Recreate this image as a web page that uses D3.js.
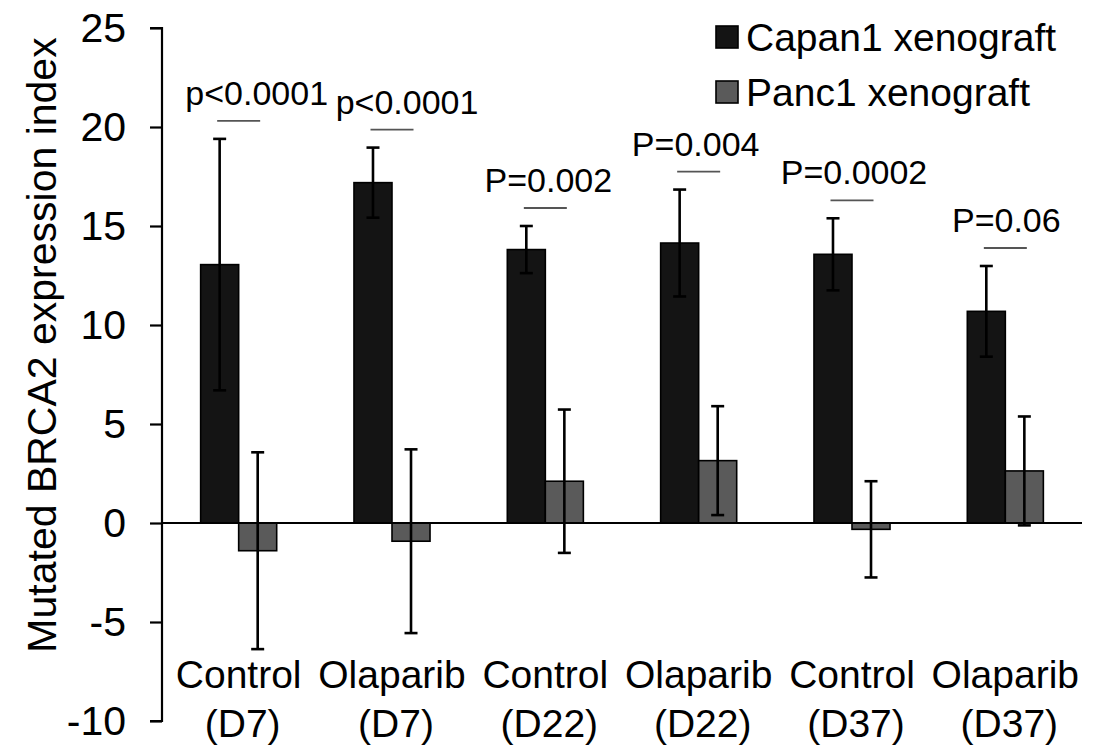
<!DOCTYPE html>
<html>
<head>
<meta charset="utf-8">
<script src="https://cdn.jsdelivr.net/npm/d3@7"></script>
<style>
  html, body { margin: 0; padding: 0; background: #fff; }
  svg { display: block; font-family: "Liberation Sans", Arial, sans-serif; }
</style>
</head>
<body>
<svg id="chart" width="1102" height="747"></svg>
<script>
// Groups on the x axis (two text lines each)
const groups = ["Control|(D7)", "Olaparib|(D7)", "Control|(D22)", "Olaparib|(D22)", "Control|(D37)", "Olaparib|(D37)"];
const seriesNames = ["Capan1 xenograft", "Panc1 xenograft"];

// Mean expression index per group
const capan1Mean = [13.05, 17.19, 13.81, 14.14, 13.57, 10.69];
const panc1Mean  = [-1.40, -0.92, 2.11, 3.15, -0.32, 2.63];

// Error bar half-widths
const capan1Err = [6.35, 1.77, 1.19, 2.70, 1.82, 2.29];
const panc1Err  = [4.97, 4.64, 3.62, 2.75, 2.43, 2.75];

// Significance labels between the two xenografts
const pLabels = ["p<0.0001", "p<0.0001", "P=0.002", "P=0.004", "P=0.0002", "P=0.06"];

const yTicks = [-10, -5, 0, 5, 10, 15, 20, 25];
const yTitle = "Mutated BRCA2 expression index";

const colors = { "Capan1 xenograft": "#141414", "Panc1 xenograft": "#5a5a5a" };

const svg = d3.select("#chart");
const plotLeft = 162, plotRight = 1082, plotTop = 28, plotBottom = 721;

const y = d3.scaleLinear().domain([-10, 25]).range([plotBottom, plotTop]);
const x = d3.scaleBand().domain(groups).range([plotLeft, plotRight])
  .paddingInner(0.504).paddingOuter(0.252);
const xs = d3.scaleBand().domain(seriesNames).range([0, x.bandwidth()]);

const rows = groups.map((g, i) => ({
  group: g,
  values: [
    { series: seriesNames[0], mean: capan1Mean[i], err: capan1Err[i] },
    { series: seriesNames[1], mean: panc1Mean[i], err: panc1Err[i] }
  ],
  p: pLabels[i]
}));

// Y axis (plain hyphen for negative numbers)
const yAxis = d3.axisLeft(y).tickValues(yTicks).tickSize(12).tickPadding(24).tickFormat(d => String(d));
const ya = svg.append("g").attr("transform", `translate(${plotLeft},0)`).call(yAxis);
ya.select(".domain").attr("stroke", "#000").attr("stroke-width", 2.2).attr("d", `M-12,${y(25)}H0V${y(-10)}H-12`);
ya.selectAll(".tick line").attr("stroke", "#000").attr("stroke-width", 2.2);
ya.selectAll(".tick text").attr("fill", "#000").style("font-size", "41px");

// Y title
svg.append("text")
  .attr("transform", `translate(56,345) rotate(-90)`)
  .attr("text-anchor", "middle")
  .style("font-size", "41px")
  .attr("fill", "#000")
  .text(yTitle);

// Bars
const g = svg.selectAll(".grp").data(rows).enter().append("g")
  .attr("class", "grp")
  .attr("transform", d => `translate(${x(d.group)},0)`);

g.selectAll("rect").data(d => d.values).enter().append("rect")
  .attr("x", d => xs(d.series))
  .attr("width", xs.bandwidth())
  .attr("y", d => y(Math.max(0, d.mean)))
  .attr("height", d => Math.abs(y(d.mean) - y(0)))
  .attr("fill", d => colors[d.series])
  .attr("stroke", "#000")
  .attr("stroke-width", 1.6);

// Zero baseline
svg.append("line")
  .attr("x1", plotLeft).attr("x2", plotRight)
  .attr("y1", y(0)).attr("y2", y(0))
  .attr("stroke", "#000").attr("stroke-width", 2.2);

// Error bars
const eb = g.selectAll(".err").data(d => d.values).enter().append("g").attr("class", "err");
const cx = d => xs(d.series) + xs.bandwidth() / 2;
eb.append("line")
  .attr("x1", cx).attr("x2", cx)
  .attr("y1", d => y(d.mean + d.err)).attr("y2", d => y(d.mean - d.err))
  .attr("stroke", "#000").attr("stroke-width", 2.6);
[1, -1].forEach(s => {
  eb.append("line")
    .attr("x1", d => cx(d) - 6.5).attr("x2", d => cx(d) + 6.5)
    .attr("y1", d => y(d.mean + s * d.err)).attr("y2", d => y(d.mean + s * d.err))
    .attr("stroke", "#000").attr("stroke-width", 2.6);
});

// Significance brackets sit above the Capan1 error bar
const bracketY = d => y(d.values[0].mean + d.values[0].err) - 18;
const pShift = [18, 15, 3, -3, 2, 1];
g.append("line")
  .attr("x1", x.bandwidth() / 2 - 21.5).attr("x2", x.bandwidth() / 2 + 21.5)
  .attr("y1", bracketY).attr("y2", bracketY)
  .attr("stroke", "#555").attr("stroke-width", 1.8);
g.append("text")
  .attr("x", (d, i) => x.bandwidth() / 2 + pShift[i])
  .attr("y", d => bracketY(d) - 16)
  .attr("text-anchor", "middle")
  .style("font-size", "34px")
  .attr("fill", "#000")
  .text(d => d.p);

// Category labels
const cat = svg.selectAll(".cat").data(groups).enter().append("text")
  .attr("class", "cat")
  .attr("text-anchor", "middle")
  .style("font-size", "39px")
  .attr("fill", "#000");
cat.each(function(d) {
  const parts = d.split("|");
  const t = d3.select(this);
  const cxg = x(d) + x.bandwidth() / 2;
  t.append("tspan").attr("x", cxg).attr("y", 688).text(parts[0]);
  t.append("tspan").attr("x", cxg + 4).attr("y", 737).text(parts[1]);
});

// Legend
const lg = svg.append("g").selectAll("g").data(seriesNames).enter().append("g")
  .attr("transform", (d, i) => `translate(716,${26 + i * 55})`);
lg.append("rect").attr("width", 22).attr("height", 22)
  .attr("fill", d => colors[d]).attr("stroke", "#000").attr("stroke-width", 1.6);
lg.append("text").attr("x", 30).attr("y", 11).attr("dy", "0.36em")
  .style("font-size", "39px").attr("fill", "#000").text(d => d);
</script>
</body>
</html>
